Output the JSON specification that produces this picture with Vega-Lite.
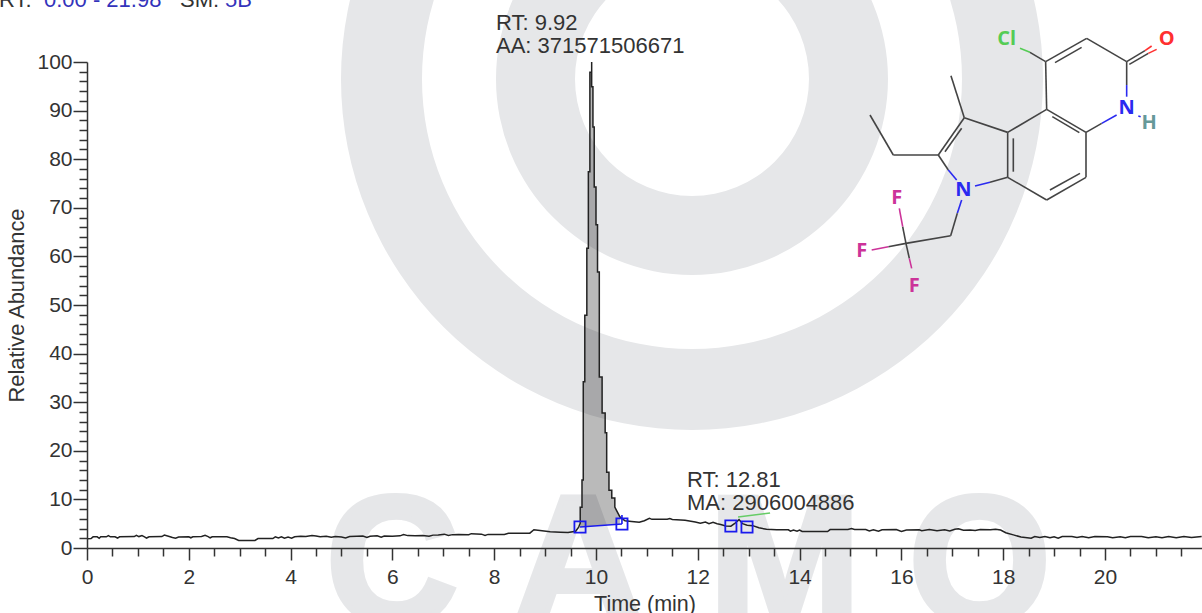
{
"$schema":"https://vega.github.io/schema/vega-lite/v6.json",
"width":1115,"height":486,
"autosize":{"type":"none"},
"padding":{"left":87,"top":62,"right":0,"bottom":65},
"background":"white",
"config":{"view":{"stroke":null}},
"datasets":{
"trace":[
{"t":0,"a":1.9},{"t":0.08,"a":1.95},{"t":0.12,"a":2.3},{"t":0.2,"a":2.3},{"t":0.24,"a":2.0},{"t":0.27,"a":2.3},{"t":0.38,"a":2.3},{"t":0.42,"a":2.55},{"t":0.46,"a":2.3},{"t":0.55,"a":2.3},{"t":0.6,"a":2.05},{"t":0.64,"a":2.3},{"t":0.93,"a":2.35},{"t":0.97,"a":2.6},{"t":1.02,"a":2.35},{"t":1.08,"a":2.55},{"t":1.13,"a":2.3},{"t":1.17,"a":2.05},{"t":1.22,"a":2.3},{"t":1.47,"a":2.35},{"t":1.52,"a":2.65},{"t":1.6,"a":2.4},{"t":1.68,"a":2.15},{"t":1.74,"a":2.0},{"t":1.8,"a":2.25},{"t":2.0,"a":2.3},{"t":2.04,"a":2.1},{"t":2.08,"a":2.3},{"t":2.25,"a":2.35},{"t":2.32,"a":2.6},{"t":2.38,"a":2.35},{"t":2.42,"a":2.1},{"t":2.46,"a":2.3},{"t":2.75,"a":2.3},{"t":2.82,"a":2.1},{"t":2.9,"a":1.95},{"t":2.98,"a":1.55},{"t":3.3,"a":1.55},{"t":3.36,"a":1.95},{"t":3.65,"a":1.95},{"t":3.7,"a":2.3},{"t":3.76,"a":2.05},{"t":3.82,"a":2.3},{"t":3.88,"a":2.0},{"t":3.95,"a":2.25},{"t":4.02,"a":2.0},{"t":4.08,"a":2.3},{"t":4.2,"a":2.4},{"t":4.3,"a":2.35},{"t":4.42,"a":2.55},{"t":4.5,"a":2.45},{"t":4.58,"a":2.3},{"t":4.7,"a":2.4},{"t":4.8,"a":2.2},{"t":4.88,"a":2.35},{"t":5.0,"a":2.25},{"t":5.08,"a":2.05},{"t":5.16,"a":2.35},{"t":5.3,"a":2.4},{"t":5.42,"a":2.45},{"t":5.5,"a":2.15},{"t":5.56,"a":2.4},{"t":5.7,"a":2.5},{"t":5.78,"a":2.2},{"t":5.84,"a":2.45},{"t":6.0,"a":2.4},{"t":6.15,"a":2.5},{"t":6.22,"a":2.75},{"t":6.3,"a":2.55},{"t":6.45,"a":2.5},{"t":6.6,"a":2.55},{"t":6.72,"a":2.4},{"t":6.8,"a":2.65},{"t":6.9,"a":2.7},{"t":7.02,"a":2.85},{"t":7.1,"a":2.6},{"t":7.18,"a":2.75},{"t":7.3,"a":2.8},{"t":7.5,"a":2.75},{"t":7.55,"a":2.95},{"t":7.75,"a":2.85},{"t":7.82,"a":2.6},{"t":7.88,"a":2.8},{"t":8.2,"a":2.8},{"t":8.28,"a":3.05},{"t":8.55,"a":3.05},{"t":8.7,"a":3.05},{"t":8.78,"a":3.75},{"t":8.9,"a":3.6},{"t":9.1,"a":3.35},{"t":9.3,"a":3.25},{"t":9.45,"a":3.2},{"t":9.6,"a":3.45},{"t":9.66,"a":4.3},
{"t":9.69,"a":5.1},{"t":9.69,"a":8.4},{"t":9.725,"a":8.4},{"t":9.725,"a":14},{"t":9.75,"a":14},{"t":9.75,"a":34.2},{"t":9.78,"a":34.2},{"t":9.78,"a":47.9},{"t":9.82,"a":47.9},{"t":9.82,"a":61.7},{"t":9.85,"a":61.7},{"t":9.85,"a":77.4},{"t":9.88,"a":77.4},{"t":9.88,"a":97.9},{"t":9.915,"a":97.9},{"t":9.915,"a":100},{"t":9.915,"a":94.9},{"t":9.94,"a":94.9},{"t":9.94,"a":86.6},{"t":9.965,"a":86.6},{"t":9.965,"a":74.3},{"t":10.0,"a":74.3},{"t":10.0,"a":66.5},{"t":10.03,"a":66.5},{"t":10.03,"a":56.8},{"t":10.065,"a":56.8},{"t":10.065,"a":35.2},{"t":10.12,"a":35.2},{"t":10.12,"a":27.8},{"t":10.18,"a":27.8},{"t":10.18,"a":23.7},{"t":10.21,"a":23.7},{"t":10.21,"a":15.6},{"t":10.255,"a":15.6},{"t":10.255,"a":11.9},{"t":10.31,"a":11.9},{"t":10.31,"a":10.3},{"t":10.37,"a":10.3},{"t":10.37,"a":8.4},{"t":10.47,"a":6.4},{"t":10.57,"a":5.6},
{"t":10.7,"a":5.45},{"t":10.85,"a":5.3},{"t":10.95,"a":5.6},{"t":11.05,"a":6.1},{"t":11.1,"a":5.9},{"t":11.4,"a":5.9},{"t":11.45,"a":6.05},{"t":11.5,"a":5.85},{"t":11.75,"a":5.7},{"t":11.95,"a":5.35},{"t":12.05,"a":5.1},{"t":12.15,"a":5.35},{"t":12.22,"a":5.0},{"t":12.3,"a":5.3},{"t":12.38,"a":5.0},{"t":12.45,"a":4.85},{"t":12.55,"a":4.55},{"t":12.65,"a":4.5},{"t":12.72,"a":5.0},{"t":12.81,"a":5.85},{"t":12.88,"a":5.0},{"t":12.97,"a":4.7},{"t":13.08,"a":4.6},{"t":13.2,"a":4.15},{"t":13.35,"a":3.85},{"t":13.55,"a":3.75},{"t":13.78,"a":3.75},{"t":13.82,"a":3.45},{"t":13.88,"a":3.7},{"t":13.95,"a":3.45},{"t":14.0,"a":3.7},{"t":14.05,"a":3.4},{"t":14.55,"a":3.4},{"t":14.6,"a":3.8},{"t":14.95,"a":3.8},{"t":15.02,"a":4.0},{"t":15.08,"a":3.8},{"t":15.3,"a":3.8},{"t":15.37,"a":3.5},{"t":15.45,"a":3.75},{"t":15.55,"a":3.45},{"t":15.62,"a":3.75},{"t":15.9,"a":3.8},{"t":16.0,"a":3.4},{"t":16.1,"a":3.7},{"t":16.35,"a":3.75},{"t":16.4,"a":3.55},{"t":16.55,"a":3.8},{"t":16.7,"a":3.55},{"t":16.85,"a":3.75},{"t":16.95,"a":3.5},{"t":17.05,"a":3.85},{"t":17.12,"a":3.95},{"t":17.22,"a":3.65},{"t":17.35,"a":3.7},{"t":17.45,"a":3.6},{"t":17.55,"a":3.8},{"t":17.75,"a":3.75},{"t":17.85,"a":3.85},{"t":17.95,"a":3.7},{"t":18.05,"a":3.15},{"t":18.2,"a":2.7},{"t":18.35,"a":2.25},{"t":18.55,"a":2.0},{"t":18.62,"a":2.35},{"t":18.72,"a":2.15},{"t":18.82,"a":2.35},{"t":18.92,"a":2.1},{"t":19.0,"a":2.3},{"t":19.08,"a":2.0},{"t":19.16,"a":2.35},{"t":19.35,"a":2.35},{"t":19.45,"a":2.15},{"t":19.55,"a":2.35},{"t":19.68,"a":2.1},{"t":19.8,"a":2.35},{"t":20.05,"a":2.3},{"t":20.15,"a":2.1},{"t":20.3,"a":2.3},{"t":20.4,"a":2.1},{"t":20.5,"a":2.35},{"t":20.72,"a":2.35},{"t":20.85,"a":2.1},{"t":21.0,"a":2.3},{"t":21.12,"a":2.1},{"t":21.25,"a":2.35},{"t":21.4,"a":2.1},{"t":21.55,"a":2.35},{"t":21.7,"a":2.15},{"t":21.9,"a":2.35}
],
"peak":[
{"t":9.69,"a":5.1,"b":4.32},{"t":9.69,"a":8.4,"b":4.32},{"t":9.725,"a":8.4,"b":4.35},{"t":9.725,"a":14,"b":4.35},{"t":9.75,"a":14,"b":4.37},{"t":9.75,"a":34.2,"b":4.37},{"t":9.78,"a":34.2,"b":4.39},{"t":9.78,"a":47.9,"b":4.39},{"t":9.82,"a":47.9,"b":4.42},{"t":9.82,"a":61.7,"b":4.42},{"t":9.85,"a":61.7,"b":4.44},{"t":9.85,"a":77.4,"b":4.44},{"t":9.88,"a":77.4,"b":4.47},{"t":9.88,"a":97.9,"b":4.47},{"t":9.915,"a":97.9,"b":4.49},{"t":9.915,"a":94.9,"b":4.49},{"t":9.94,"a":94.9,"b":4.51},{"t":9.94,"a":86.6,"b":4.51},{"t":9.965,"a":86.6,"b":4.53},{"t":9.965,"a":74.3,"b":4.53},{"t":10.0,"a":74.3,"b":4.56},{"t":10.0,"a":66.5,"b":4.56},{"t":10.03,"a":66.5,"b":4.58},{"t":10.03,"a":56.8,"b":4.58},{"t":10.065,"a":56.8,"b":4.61},{"t":10.065,"a":35.2,"b":4.61},{"t":10.12,"a":35.2,"b":4.65},{"t":10.12,"a":27.8,"b":4.65},{"t":10.18,"a":27.8,"b":4.69},{"t":10.18,"a":23.7,"b":4.69},{"t":10.21,"a":23.7,"b":4.71},{"t":10.21,"a":15.6,"b":4.71},{"t":10.255,"a":15.6,"b":4.75},{"t":10.255,"a":11.9,"b":4.75},{"t":10.31,"a":11.9,"b":4.79},{"t":10.31,"a":10.3,"b":4.79},{"t":10.37,"a":10.3,"b":4.83},{"t":10.37,"a":8.4,"b":4.83},{"t":10.47,"a":6.4,"b":4.91}
],
"bonds":[
{"t":18.834,"a":100.07,"t2":19.64,"a2":104.87,"el":"C"},
{"t":19.018,"a":99.86,"t2":19.541,"a2":103.02,"el":"C"},
{"t":19.64,"a":104.87,"t2":20.426,"a2":100.07,"el":"C"},
{"t":20.426,"a":100.07,"t2":20.786,"a2":102.33,"el":"C"},
{"t":20.786,"a":102.33,"t2":20.917,"a2":103.29,"el":"O"},
{"t":20.478,"a":99.52,"t2":20.851,"a2":101.78,"el":"C"},
{"t":20.851,"a":101.78,"t2":21.015,"a2":102.6,"el":"O"},
{"t":20.426,"a":100.07,"t2":20.426,"a2":95.26,"el":"C"},
{"t":20.426,"a":95.26,"t2":20.426,"a2":92.86,"el":"N"},
{"t":20.229,"a":89.09,"t2":19.935,"a2":87.38,"el":"N"},
{"t":19.935,"a":87.38,"t2":19.627,"a2":85.52,"el":"C"},
{"t":19.627,"a":85.52,"t2":18.854,"a2":90.26,"el":"C"},
{"t":18.965,"a":88.75,"t2":19.496,"a2":85.46,"el":"C"},
{"t":18.854,"a":90.26,"t2":18.834,"a2":100.07,"el":"C"},
{"t":18.854,"a":90.26,"t2":18.088,"a2":85.52,"el":"C"},
{"t":18.088,"a":85.52,"t2":18.088,"a2":76.27,"el":"C"},
{"t":18.199,"a":84.29,"t2":18.199,"a2":77.43,"el":"C"},
{"t":18.088,"a":76.27,"t2":18.854,"a2":71.6,"el":"C"},
{"t":18.854,"a":71.6,"t2":19.627,"a2":76.27,"el":"C"},
{"t":18.919,"a":73.66,"t2":19.509,"a2":77.09,"el":"C"},
{"t":19.627,"a":76.27,"t2":19.627,"a2":85.52,"el":"C"},
{"t":18.088,"a":85.52,"t2":17.236,"a2":88.54,"el":"C"},
{"t":17.236,"a":88.54,"t2":16.974,"a2":97.19,"el":"C"},
{"t":17.236,"a":88.54,"t2":16.725,"a2":80.86,"el":"C"},
{"t":17.184,"a":86.35,"t2":16.856,"a2":81.55,"el":"C"},
{"t":16.725,"a":80.86,"t2":15.841,"a2":80.86,"el":"C"},
{"t":15.841,"a":80.86,"t2":15.383,"a2":89.09,"el":"C"},
{"t":16.725,"a":80.86,"t2":16.922,"a2":77.77,"el":"C"},
{"t":16.922,"a":77.77,"t2":17.086,"a2":75.72,"el":"N"},
{"t":17.446,"a":74.48,"t2":17.741,"a2":75.24,"el":"N"},
{"t":17.741,"a":75.24,"t2":18.088,"a2":76.27,"el":"C"},
{"t":17.184,"a":71.6,"t2":17.099,"a2":68.86,"el":"N"},
{"t":17.099,"a":68.86,"t2":16.968,"a2":64.26,"el":"C"},
{"t":16.968,"a":64.26,"t2":16.09,"a2":62.68,"el":"C"},
{"t":16.09,"a":62.68,"t2":16.025,"a2":66.11,"el":"C"},
{"t":16.025,"a":66.11,"t2":15.959,"a2":69.89,"el":"F"},
{"t":16.09,"a":62.68,"t2":15.743,"a2":61.99,"el":"C"},
{"t":15.743,"a":61.99,"t2":15.416,"a2":61.31,"el":"F"},
{"t":16.09,"a":62.68,"t2":16.156,"a2":59.6,"el":"C"},
{"t":16.156,"a":59.6,"t2":16.202,"a2":57.54,"el":"F"},
{"t":18.33,"a":102.81,"t2":18.526,"a2":101.99,"el":"Cl"},
{"t":18.526,"a":101.99,"t2":18.834,"a2":100.07,"el":"C"},
{"t":20.655,"a":88.89,"t2":20.701,"a2":88.75,"el":"N"}
],
"atoms":[
{"t":18.068,"a":104.7,"label":"Cl","el":"Cl"},
{"t":21.211,"a":104.8,"label":"O","el":"O"},
{"t":20.426,"a":90.46,"label":"N","el":"N"},
{"t":20.87,"a":87.5,"label":"H","el":"H"},
{"t":17.217,"a":73.66,"label":"N","el":"N"},
{"t":15.907,"a":71.94,"label":"F","el":"F"},
{"t":15.219,"a":61.17,"label":"F","el":"F"},
{"t":16.254,"a":53.97,"label":"F","el":"F"}
]
},
"encoding":{
"x":{"field":"t","type":"quantitative","title":"Time (min)","scale":{"domain":[0,21.906],"nice":false,"zero":false},
"axis":{"values":[0,0.5,1,1.5,2,2.5,3,3.5,4,4.5,5,5.5,6,6.5,7,7.5,8,8.5,9,9.5,10,10.5,11,11.5,12,12.5,13,13.5,14,14.5,15,15.5,16,16.5,17,17.5,18,18.5,19,19.5,20,20.5,21,21.5],
"labelExpr":"datum.value % 2 === 0 ? datum.value : ''","tickSize":{"condition":{"test":"datum.value % 2 === 0","value":12},"value":8},
"grid":false,"zindex":1,"domainColor":"#333333","tickColor":"#333333","domainWidth":1.5,"tickWidth":1.5,"labelFont":"Liberation Sans","labelFontSize":21,"labelColor":"#333333","labelPadding":6,"labelOverlap":false,"labelFlush":false,
"titleFont":"Liberation Sans","titleFontSize":21.5,"titleFontWeight":"normal","titleColor":"#333333","titlePadding":6}},
"y":{"field":"a","type":"quantitative","title":"Relative Abundance","scale":{"domain":[0,100],"nice":false,"zero":false},
"axis":{"values":[0,2,4,6,8,10,12,14,16,18,20,22,24,26,28,30,32,34,36,38,40,42,44,46,48,50,52,54,56,58,60,62,64,66,68,70,72,74,76,78,80,82,84,86,88,90,92,94,96,98,100],
"labelExpr":"datum.value % 10 === 0 ? datum.value : ''","tickSize":{"condition":{"test":"datum.value % 10 === 0","value":14},"value":8},
"grid":false,"zindex":1,"domainColor":"#333333","tickColor":"#333333","domainWidth":1.5,"tickWidth":1.5,"labelFont":"Liberation Sans","labelFontSize":21,"labelColor":"#333333","labelPadding":1,"labelOverlap":false,"labelFlush":false,
"titleFont":"Liberation Sans","titleFontSize":21.8,"titleFontWeight":"normal","titleColor":"#333333","titlePadding":8}}
},
"layer":[
{"data":{"values":[{"t":11.886,"a":96.5}]},"mark":{"type":"arc","innerRadius":117,"outerRadius":196,"theta":0,"theta2":6.2832,"color":"#e6e7e9"}},
{"data":{"values":[{"t":11.886,"a":96.5}]},"mark":{"type":"arc","innerRadius":270,"outerRadius":351,"theta":0,"theta2":6.2832,"color":"#e6e7e9"}},
{"data":{"values":[{"t":5.99,"a":-15.5,"letter":"C"},{"t":9.65,"a":-15.5,"letter":"A"},{"t":13.71,"a":-15.5,"letter":"M"},{"t":17.54,"a":-15.5,"letter":"O"}]},
"mark":{"type":"text","font":"Liberation Sans","fontWeight":"bold","fontSize":182,"baseline":"alphabetic","align":"center","color":"#e6e7e9","stroke":"#e6e7e9","strokeWidth":6},
"encoding":{"text":{"field":"letter"}}},
{"data":{"name":"peak"},"mark":{"type":"area","color":"#000000","opacity":0.27,"order":null},"encoding":{"order":{"value":null},"y2":{"field":"b"}}},
{"data":{"name":"trace"},"mark":{"type":"line","color":"#222222","strokeWidth":1.5,"order":null},"encoding":{"order":{"value":null}}},
{"data":{"values":[{"t":9.686,"a":4.32,"t2":10.51,"a2":4.94},{"t":10.51,"a":4.94,"t2":10.51,"a2":6.8}]},"mark":{"type":"rule","color":"#1a1aee","strokeWidth":1.6},"encoding":{"x2":{"field":"t2"},"y2":{"field":"a2"}}},
{"data":{"values":[{"t":12.79,"a":6.38,"t2":13.42,"a2":7.2}]},"mark":{"type":"rule","color":"#66cc66","strokeWidth":1.5},"encoding":{"x2":{"field":"t2"},"y2":{"field":"a2"}}},
{"data":{"values":[{"t":9.686,"a":4.32},{"t":10.51,"a":4.94},{"t":12.65,"a":4.53},{"t":12.967,"a":4.32}]},"mark":{"type":"point","shape":"square","filled":false,"size":125,"color":"#1a1aee","strokeWidth":1.8,"opacity":1}},
{"data":{"name":"bonds"},"mark":{"type":"rule","strokeWidth":1.6},"encoding":{"x2":{"field":"t2"},"y2":{"field":"a2"},"color":{"field":"el","type":"nominal","legend":null,"scale":{"domain":["C","N","O","F","Cl","H"],"range":["#444444","#2a2af0","#ff3030","#cc3399","#55cc55","#669999"]}}}},
{"data":{"name":"atoms"},"mark":{"type":"text","font":"Open Sans","fontSize":20,"fontWeight":700,"baseline":"middle","align":"center"},"encoding":{"text":{"field":"label"},"color":{"field":"el","type":"nominal","legend":null,"scale":{"domain":["C","N","O","F","Cl","H"],"range":["#444444","#2a2af0","#ff3030","#cc3399","#55cc55","#669999"]}}}},
{"data":{"values":[{"t":8.035,"a":106.58,"s":"RT: 9.92"},{"t":8.035,"a":101.85,"s":"AA: 371571506671"},{"t":11.788,"a":12.55,"s":"RT: 12.81"},{"t":11.788,"a":7.82,"s":"MA: 2906004886"},{"t":-1.729,"a":111.3,"s":"RT:"},{"t":1.827,"a":111.3,"s":"SM:"}]},
"mark":{"type":"text","font":"Liberation Sans","fontSize":22,"baseline":"alphabetic","align":"left","color":"#333333"},"encoding":{"text":{"field":"s"}}},
{"data":{"values":[{"t":-0.845,"a":111.3,"s":"0.00 - 21.98"},{"t":2.711,"a":111.3,"s":"5B"}]},
"mark":{"type":"text","font":"Liberation Sans","fontSize":22,"baseline":"alphabetic","align":"left","color":"#3333bb"},"encoding":{"text":{"field":"s"}}}
]
}
